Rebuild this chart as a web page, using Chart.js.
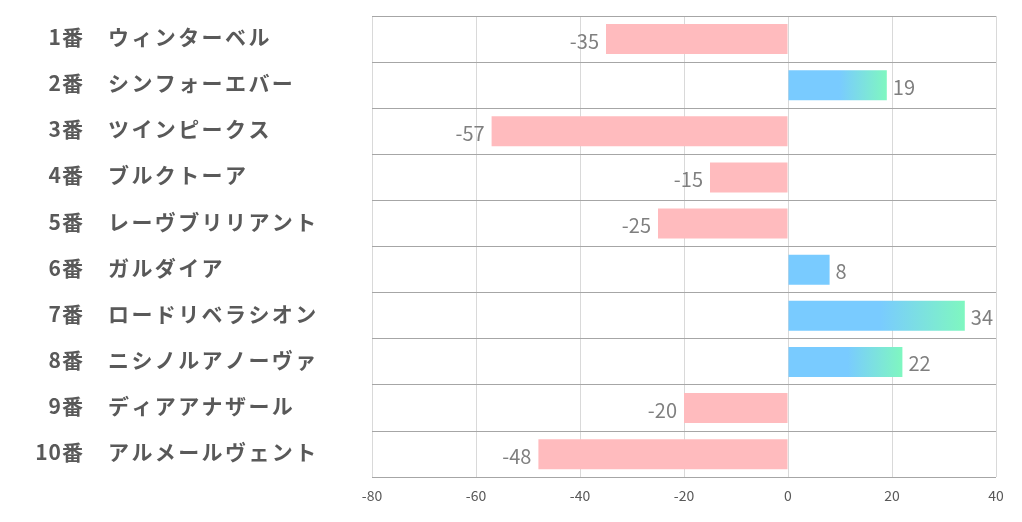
<!DOCTYPE html>
<html>
<head>
<meta charset="utf-8">
<script src="https://cdn.jsdelivr.net/npm/chart.js@4"></script>
<style>
  html, body { margin: 0; padding: 0; background: #fff; }
  #wrap { width: 1022px; height: 522px; }
</style>
</head>
<body>
<div id="wrap"><canvas id="chart" width="1022" height="522"></canvas></div>
<script>
const horseNums = ['1番', '2番', '3番', '4番', '5番', '6番', '7番', '8番', '9番', '10番'];
const horseNames = ['ウィンターベル', 'シンフォーエバー', 'ツインピークス', 'ブルクトーア', 'レーヴブリリアント',
  'ガルダイア', 'ロードリベラシオン', 'ニシノルアノーヴァ', 'ディアアナザール', 'アルメールヴェント'];
const scores = [-35, 19, -57, -15, -25, 8, 34, 22, -20, -48];
const xTicks = [-80, -60, -40, -20, 0, 20, 40];

const PINK = '#ffbbbe';
const BLUE = '#79cbff';
const GREEN = '#7ff7c0';
const FONT = '"Noto Sans CJK JP", "Noto Sans", sans-serif';

function barColor(ctx) {
  const v = ctx.raw;
  if (v < 0) return PINK;
  if (v < 10) return BLUE;
  const chart = ctx.chart;
  const x0 = chart.scales.x.getPixelForValue(0);
  const x1 = chart.scales.x.getPixelForValue(v);
  if (!isFinite(x0) || !isFinite(x1)) return BLUE;
  const g = chart.ctx.createLinearGradient(x0, 0, x1, 0);
  g.addColorStop(0, BLUE);
  g.addColorStop(0.52, BLUE);
  g.addColorStop(1, GREEN);
  return g;
}

// left labels + value labels
const labelPlugin = {
  id: 'labels',
  afterDatasetsDraw(chart) {
    const ctx = chart.ctx;
    const meta = chart.getDatasetMeta(0);
    ctx.save();
    ctx.textBaseline = 'middle';
    ctx.fillStyle = '#595959';
    ctx.font = 'bold 21px ' + FONT;
    horseNums.forEach((n, i) => {
      const y = chart.scales.y.getPixelForValue(i) - 2;
      ctx.letterSpacing = '1px';
      ctx.textAlign = 'right';
      ctx.fillText(n, 84, y);
      ctx.letterSpacing = '2.4px';
      ctx.textAlign = 'left';
      ctx.fillText(horseNames[i], 108, y);
    });
    ctx.letterSpacing = '0px';
    ctx.font = '20px ' + FONT;
    ctx.fillStyle = '#7f7f7f';
    meta.data.forEach((bar, i) => {
      const v = scores[i];
      if (v < 0) {
        ctx.textAlign = 'right';
        ctx.fillText(String(v), bar.x - 7, bar.y + 2);
      } else {
        ctx.textAlign = 'left';
        ctx.fillText(String(v), bar.x + 6, bar.y + 2);
      }
    });
    ctx.restore();
  }
};

new Chart(document.getElementById('chart'), {
  type: 'bar',
  data: {
    labels: horseNames,
    datasets: [{
      data: scores,
      backgroundColor: barColor,
      borderWidth: 0,
      barPercentage: 0.65,
      categoryPercentage: 1
    }]
  },
  options: {
    indexAxis: 'y',
    responsive: false,
    animation: false,
    layout: { padding: { left: 372, right: 26, top: 16, bottom: 8 } },
    plugins: { legend: { display: false }, tooltip: { enabled: false } },
    scales: {
      x: {
        min: -80,
        max: 40,
        afterBuildTicks(axis) { axis.ticks = xTicks.map(v => ({ value: v })); },
        grid: { color: '#d9d9d9', lineWidth: 1, drawTicks: false },
        border: { display: false },
        ticks: {
          color: '#595959',
          font: { family: FONT, size: 14 },
          padding: 10
        }
      },
      y: {
        grid: { offset: true, color: '#a6a6a6', lineWidth: 1, drawTicks: false },
        border: { display: false },
        ticks: { display: false }
      }
    }
  },
  plugins: [labelPlugin]
});
</script>
</body>
</html>
